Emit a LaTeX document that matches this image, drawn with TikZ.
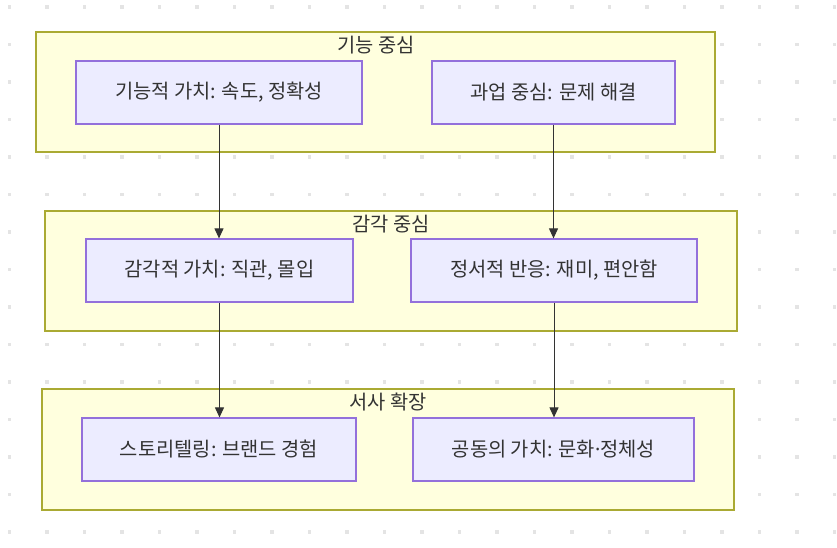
\documentclass[tikz,border=0pt]{standalone}
\usepackage{fontspec}
\setmainfont{Noto Sans CJK KR}
\newfontfamily\latinf{Noto Sans}
\usetikzlibrary{arrows.meta}
\definecolor{clfill}{HTML}{FFFFDE}
\definecolor{cldraw}{HTML}{AAAA33}
\definecolor{ndfill}{HTML}{ECECFF}
\definecolor{nddraw}{HTML}{9370DB}
\definecolor{txt}{HTML}{333333}
\definecolor{dotc}{HTML}{E4E4E4}

\begin{document}
\begin{tikzpicture}[x=1pt,y=-1pt,
  cluster/.style={draw=cldraw,fill=clfill,line width=1.2pt,inner sep=0pt},
  title/.style={text=txt,font=\fontsize{19.8}{22}\selectfont,inner sep=0pt},
  box/.style={draw=nddraw,fill=ndfill,line width=1.2pt,inner sep=0pt,minimum height=63,
    text=txt,font=\fontsize{19.8}{22}\selectfont},
  flow/.style={-{Triangle[width=9pt,length=10pt]},draw=txt,line width=1pt}]
  \useasboundingbox (0,0) rectangle (837,548);
  % dotted canvas
  \foreach \i in {0,...,22}{
    \foreach \j in {0,...,14}{
      \fill[dotc] ({9.5+37.5*\i-1.7},{7+37.5*\j-1.7}) rectangle +(3.4,3.4);
    }
  }
  % groups
  \node[cluster,minimum width=679,minimum height=120] (func) at (375.5,92) {};
  \node[title] (funct) at (376,45) {기능 중심};
  \node[cluster,minimum width=692,minimum height=120] (sens) at (391,271) {};
  \node[title] (senst) at (391,224) {감각 중심};
  \node[cluster,minimum width=692,minimum height=121] (narr) at (388,449.5) {};
  \node[title] (narrt) at (388,402) {서사 확장};
  % steps
  \node[box,minimum width=286] (fval) at (219,92.5) {기능적 가치: 속도, 정확성};
  \node[box,minimum width=243] (task) at (553.5,92.5) {과업 중심: 문제 해결};
  \node[box,minimum width=267] (sval) at (219.5,270.5) {감각적 가치: 직관, 몰입};
  \node[box,minimum width=286] (emo) at (554,270.5) {정서적 반응: 재미, 편안함};
  \node[box,minimum width=274] (story) at (219,449.5) {스토리텔링: 브랜드 경험};
  \node[box,minimum width=281] (comm) at (553.5,449.5) {공동의 가치: 문화{\latinf ·}정체성};
  % links
  \draw[flow] (fval.south) -- (fval.south |- sval.north);
  \draw[flow] (task.south) -- (task.south |- emo.north);
  \draw[flow] (sval.south) -- (sval.south |- story.north);
  \draw[flow] (emo.south) -- (emo.south |- comm.north);
\end{tikzpicture}
\end{document}
